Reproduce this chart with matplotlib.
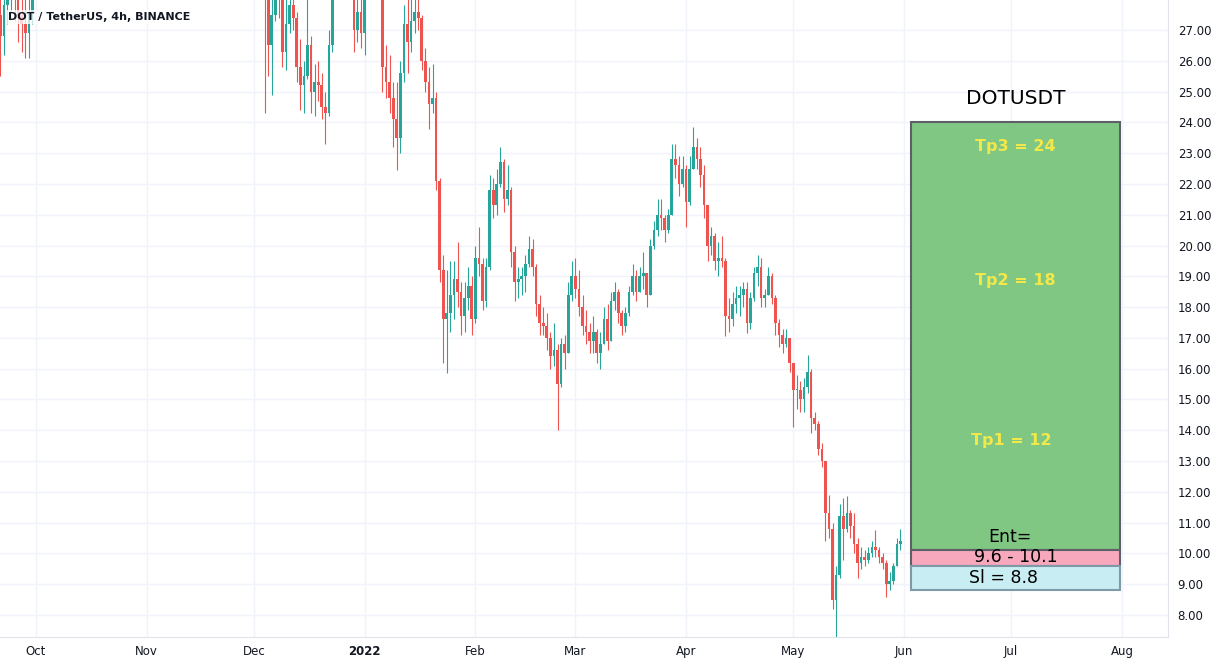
import matplotlib
matplotlib.use("Agg")
import matplotlib.pyplot as plt
import matplotlib.dates as mdates
from matplotlib.patches import Rectangle
import numpy as np
import pandas as pd

# daily candles (values above 28 are off-screen in the reference)
start_day = "2021-09-21"
first_open = 27.5
closes = [
    # Sep 21-30
    26.8, 27.8, 28.8, 29.2, 28.5, 27.5, 27.2, 26.9, 27.6, 28.6,
    # Oct
    31.5, 32.3, 33.0, 32.0, 32.8, 33.5, 32.6, 34.0, 34.5, 33.8, 35.0, 36.5, 37.6, 38.9, 40.2, 41.0,
    40.5, 39.8, 42.0, 42.8, 41.5, 40.6, 41.8, 42.5, 43.6, 43.0, 40.8, 42.2, 44.3, 43.5, 43.1,
    # Nov
    44.8, 46.5, 49.2, 49.0, 47.8, 48.5, 50.2, 52.4, 52.0, 48.6, 49.5, 48.2, 48.8, 48.1, 47.6,
    43.2, 43.8, 42.0, 41.0, 40.5, 41.6, 40.2, 38.0, 38.5, 40.0, 37.6, 37.9, 38.2, 38.6, 37.5,
    # Dec
    37.0, 35.8, 31.6, 28.8, 26.5, 27.5, 29.5, 28.6, 26.3, 27.2, 27.8, 27.4, 25.8, 25.2, 25.5, 26.5,
    25.0, 25.3, 25.2, 24.5, 24.3, 26.5, 28.3, 29.6, 29.5, 29.8, 30.4, 28.4, 27.0, 27.6, 26.9,
    # Jan
    28.3, 29.6, 29.0, 29.3, 28.5, 25.8, 25.3, 24.8, 24.1, 23.5, 25.6, 27.2, 26.6, 27.3, 27.6, 27.4,
    26.0, 25.3, 24.6, 24.8, 22.1, 19.2, 17.6, 17.8, 18.4, 18.9, 18.5, 17.7, 18.3, 18.7, 17.6,
    # Feb
    19.6, 19.4, 18.2, 19.3, 21.8, 21.3, 22.0, 22.7, 21.5, 21.8, 19.8, 18.8, 18.9, 19.0,
    19.4, 19.9, 19.3, 18.1, 17.5, 17.4, 17.0, 16.4, 16.6, 15.5, 16.8, 16.5, 18.4, 19.0,
    # Mar
    18.6, 18.0, 17.4, 17.2, 16.9, 17.2, 16.5, 16.8, 17.6, 16.9, 18.2, 18.5, 17.8, 17.4, 17.8, 18.5,
    19.0, 18.5, 19.0, 19.1, 18.4, 20.0, 20.5, 21.0, 20.9, 20.5, 21.0, 22.8, 22.6, 22.0, 22.5,
    # Apr
    21.4, 22.5, 23.2, 22.8, 22.3, 21.3, 20.0, 20.3, 19.5, 19.6, 19.5, 17.7, 17.6, 18.1, 18.3,
    18.4, 18.6, 17.5, 18.3, 19.1, 19.3, 18.3, 18.4, 19.0, 18.3, 17.5, 17.1, 16.8, 17.0, 16.2,
    # May
    15.3, 15.3, 15.0, 15.4, 15.9, 14.4, 14.2, 13.4, 13.0, 11.3, 10.8, 8.5, 9.3, 11.2, 10.8, 11.3,
    10.9, 10.3, 9.7, 9.9, 9.8, 10.0, 10.2, 10.1, 9.9, 9.7, 9.0, 9.1, 9.6, 10.3, 10.4,
]
highs = [
    28.5, 28.2, 29.5, 30.0, 30.0, 29.0, 28.5, 28.3, 28.0, 29.5,
    32.2, 33.0, 33.8, 33.6, 33.4, 34.2, 34.0, 34.6, 35.2, 35.0, 35.6, 37.2, 38.3, 39.6, 41.0, 41.9,
    41.8, 41.2, 42.7, 43.6, 43.4, 42.3, 42.5, 43.3, 44.4, 44.5, 43.5, 42.9, 45.0, 45.2, 44.2,
    45.5, 47.3, 50.0, 50.4, 49.7, 49.3, 51.0, 53.6, 54.8, 52.8, 50.3, 50.0, 49.6, 49.5, 48.9,
    47.9, 44.6, 44.3, 42.6, 41.9, 42.3, 42.0, 40.6, 39.3, 40.8, 40.4, 38.7, 39.0, 39.4, 39.0,
    38.2, 37.6, 36.2, 32.0, 29.5, 28.0, 30.5, 30.5, 29.0, 28.2, 28.6, 28.4, 27.6, 26.7, 26.0, 28.2,
    26.8, 25.9, 26.0, 25.6, 25.0, 27.0, 28.8, 30.5, 30.2, 30.0, 31.0, 30.6, 28.6, 28.3, 28.5,
    28.6, 30.5, 30.0, 30.0, 30.2, 28.6, 26.5, 26.2, 25.3, 25.3, 26.0, 27.8, 28.0, 28.0, 28.5, 28.6,
    27.5, 26.4, 25.8, 25.9, 25.0, 22.2, 19.7, 19.2, 19.5, 19.5, 20.1, 18.8, 18.8, 19.3, 19.0,
    20.0, 20.6, 19.6, 19.6, 22.3, 22.2, 22.5, 23.2, 22.8, 22.6, 21.9, 20.0, 19.3, 19.3,
    19.7, 20.3, 20.2, 19.4, 18.4, 18.0, 17.8, 17.2, 17.5, 16.8, 17.0, 17.1, 18.8, 19.5,
    19.6, 19.2, 18.4, 17.9, 17.5, 17.7, 17.3, 17.2, 18.0, 18.1, 18.5, 18.8, 18.6, 17.9, 18.0, 18.7,
    19.4, 19.2, 19.3, 19.8, 19.1, 20.2, 20.8, 21.5, 21.5, 21.0, 21.2, 23.3, 23.3, 22.9, 22.9,
    22.6, 22.9, 23.85, 23.5, 23.2, 22.6, 21.3, 20.6, 20.4, 20.1, 20.3, 19.6, 18.3, 18.5, 18.7,
    18.7, 18.8, 18.8, 18.5, 19.3, 19.7, 19.6, 18.6, 19.3, 19.1, 18.4, 17.6, 17.3, 17.3, 17.0,
    16.2, 15.8, 15.6, 15.7, 16.45, 16.0, 14.6, 14.3, 13.6, 13.0, 11.9, 11.0, 9.6, 11.6, 11.8, 11.85,
    11.4, 11.3, 10.5, 10.2, 10.1, 10.2, 10.4, 10.75, 10.2, 10.0, 9.8, 9.4, 9.7, 10.5, 10.8,
]
lows = [
    25.5, 26.2, 27.2, 27.6, 27.3, 26.6, 26.3, 26.1, 26.1, 27.2,
    28.4, 30.6, 31.5, 31.2, 31.4, 32.1, 31.8, 32.2, 33.4, 33.0, 33.2, 34.4, 35.9, 37.0, 38.2, 39.5,
    39.7, 38.9, 39.2, 41.2, 40.6, 39.8, 40.0, 41.0, 41.9, 42.1, 39.9, 39.6, 41.6, 42.7, 42.2,
    42.6, 44.1, 45.9, 48.0, 46.9, 47.0, 47.9, 49.6, 50.8, 47.4, 47.8, 47.3, 47.5, 47.2, 46.6,
    42.5, 42.3, 41.2, 40.1, 39.6, 39.9, 39.5, 37.2, 37.4, 37.9, 37.0, 36.8, 37.2, 37.6, 36.9,
    36.3, 35.0, 30.8, 24.3, 25.5, 24.9, 27.3, 27.4, 25.8, 25.7, 26.9, 27.0, 25.3, 24.4, 24.3, 25.4,
    24.3, 24.2, 24.7, 24.1, 23.3, 24.2, 26.3, 28.1, 28.8, 28.5, 29.3, 28.1, 26.3, 26.6, 26.4,
    26.2, 28.2, 28.5, 28.4, 28.1, 25.0, 24.8, 24.3, 23.2, 22.45, 23.0, 25.3, 25.6, 26.3, 26.9, 27.0,
    25.7, 25.0, 23.8, 24.3, 21.8, 18.8, 16.2, 15.85, 17.2, 17.6, 18.0, 17.1, 17.2, 17.9, 17.1,
    17.5, 19.0, 17.9, 18.0, 19.2, 20.9, 21.0, 21.9, 21.1, 21.3, 19.3, 18.2, 18.3, 18.4,
    18.5, 19.3, 19.0, 17.7, 17.1, 17.1, 16.6, 16.0, 16.1, 14.0, 15.4, 16.0, 16.5, 18.2,
    18.3, 17.7, 17.1, 16.8, 16.5, 16.5, 16.2, 16.0, 16.8, 16.6, 16.9, 17.9, 17.5, 17.1, 17.2, 17.7,
    18.4, 18.2, 18.5, 18.6, 18.0, 18.4, 19.9, 20.3, 20.5, 20.1, 20.4, 21.0, 22.2, 21.6, 21.9,
    20.6, 21.3, 22.5, 22.5, 21.9, 20.9, 19.5, 19.7, 19.2, 19.0, 19.3, 17.05, 17.2, 17.4, 17.8,
    17.7, 18.0, 17.15, 17.3, 18.2, 18.7, 18.0, 18.0, 18.4, 18.1, 17.1, 16.7, 16.5, 16.7, 15.9,
    14.1, 14.7, 14.6, 14.6, 15.2, 13.9, 14.0, 13.2, 12.8, 10.4, 10.5, 8.2, 7.3, 9.2, 9.8, 10.7,
    10.5, 10.0, 9.2, 9.5, 9.6, 9.7, 9.9, 9.9, 9.7, 9.5, 8.6, 8.8, 9.0, 9.6, 10.1,
]

# trade plan drawn on the chart
plan_start = "2022-06-03"
plan_end = "2022-07-31 12:00"
tp3, tp2, tp1 = 24, 18, 12
entry_low, entry_high = 9.6, 10.1
stop_loss = 8.8

month_ticks = ["2021-10-01", "2021-11-01", "2021-12-01", "2022-01-01", "2022-02-01", "2022-03-01",
               "2022-04-01", "2022-05-01", "2022-06-01", "2022-07-01", "2022-08-01"]
month_labels = ["Oct", "Nov", "Dec", "2022", "Feb", "Mar", "Apr", "May", "Jun", "Jul", "Aug"]
price_ticks = list(range(8, 28))

UP, DOWN = "#26a69a", "#ef5350"
TXT = "#131722"

dates = mdates.date2num(pd.date_range(start_day, periods=len(closes), freq="D"))
c = np.array(closes)
o = np.array([first_open] + closes[:-1])  # each candle opens at the previous close
h = np.array(highs)
l = np.array(lows)
col = np.where(c >= o, UP, DOWN)

fig = plt.figure(figsize=(12.18, 6.65), dpi=100)
ax = fig.add_axes([0, 28 / 665, 1168 / 1218, 637 / 665])

ax.vlines(dates, l, h, colors=col, linewidth=0.8, zorder=3)
body = np.where(np.abs(c - o) < 0.05, 0.05, c - o)
ax.bar(dates, body, bottom=o, width=0.75, color=col, linewidth=0, zorder=3)

x0 = mdates.datestr2num("2021-10-01")
ax.set_xlim(x0 - 10.08, x0 + 316.9)
ax.set_ylim(7.286, 27.974)

ax.set_xticks(mdates.datestr2num(month_ticks))
ax.set_xticklabels(month_labels)
for t in ax.get_xticklabels():
    if t.get_text() == "2022":
        t.set_fontweight("bold")
ax.set_yticks(price_ticks)
ax.set_yticklabels([f"{p:.2f}" for p in price_ticks])
ax.yaxis.tick_right()
ax.tick_params(axis="both", length=0, labelsize=8.5, labelcolor=TXT)
ax.tick_params(axis="x", pad=6)
ax.tick_params(axis="y", pad=7)
ax.grid(True, color="#f0f3fa", linewidth=1, zorder=0)
for s in ["top", "left"]:
    ax.spines[s].set_visible(False)
ax.spines["right"].set_color("#e0e3eb")
ax.spines["bottom"].set_color("#e0e3eb")

# plan boxes
bx0 = mdates.datestr2num(plan_start)
bx1 = mdates.datestr2num(plan_end)
bw = bx1 - bx0
edge = "#5d6066"
ax.add_patch(Rectangle((bx0, entry_high), bw, tp3 - entry_high, facecolor="#81c784",
                       edgecolor=edge, linewidth=1.5, zorder=4))
ax.add_patch(Rectangle((bx0, entry_low), bw, entry_high - entry_low, facecolor="#f7a8bd",
                       edgecolor=edge, linewidth=1.5, zorder=4))
ax.add_patch(Rectangle((bx0, stop_loss), bw, entry_low - stop_loss, facecolor="#c8eef3",
                       edgecolor="#7f9aa6", linewidth=1.5, zorder=4))

bxc = bx0 + bw / 2
yel = "#f2e84a"
ax.text(bxc, 24.79, "DOTUSDT", ha="center", va="center", fontsize=14.5, color="black", zorder=5)
ax.text(bxc, 23.23, f"Tp3 = {tp3}", ha="center", va="center", fontsize=11.5,
        fontweight="bold", color=yel, zorder=5)
ax.text(bxc, 18.88, f"Tp2 = {tp2}", ha="center", va="center", fontsize=11.5,
        fontweight="bold", color=yel, zorder=5)
ax.text(bxc - 1.2, 13.68, f"Tp1 = {tp1}", ha="center", va="center", fontsize=11.5,
        fontweight="bold", color=yel, zorder=5)
ax.text(bxc - 1.5, 10.53, "Ent=", ha="center", va="center", fontsize=12.5, color="black", zorder=5)
ax.text(bxc, 9.88, f"{entry_low} - {entry_high}", ha="center", va="center", fontsize=12.5,
        color="black", zorder=5)
ax.text(bxc - 3.5, 9.2, f"Sl = {stop_loss}", ha="center", va="center", fontsize=12.5,
        color="black", zorder=5)

fig.text(8 / 1218, 1 - 17 / 665, "DOT / TetherUS, 4h, BINANCE", ha="left", va="center",
         fontsize=8, fontweight="bold", color=TXT,
         bbox=dict(facecolor="white", alpha=0.75, edgecolor="none", pad=1.5))

fig.savefig("out.png", dpi=100, facecolor="white")
